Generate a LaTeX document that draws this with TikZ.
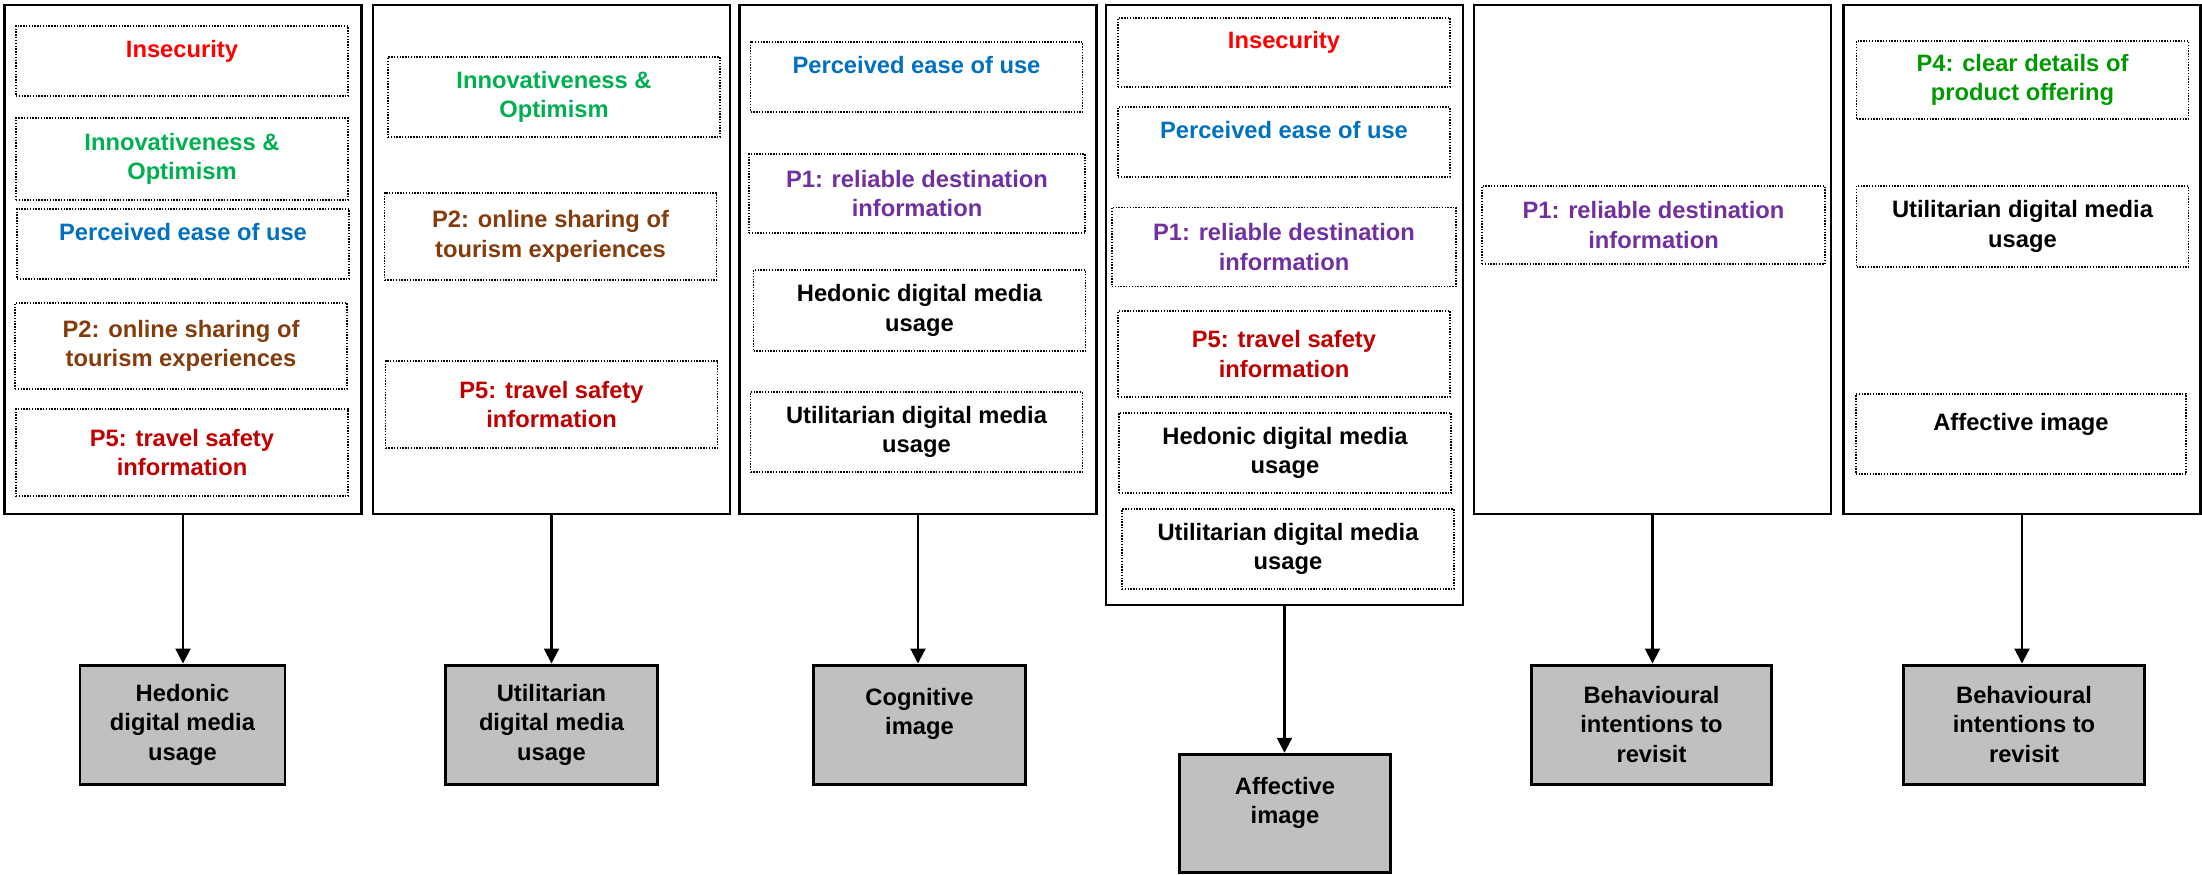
\documentclass[tikz,border=0pt]{standalone}
\usepackage{fontspec}
\setmainfont{Liberation Sans}
\usepackage{tikz}
\usetikzlibrary{arrows.meta}
\usetikzlibrary{positioning}

\definecolor{insec}{HTML}{FF0000}
\definecolor{innov}{HTML}{00B050}
\definecolor{ease}{HTML}{0070C0}
\definecolor{share}{HTML}{843C0C}
\definecolor{safety}{HTML}{C00000}
\definecolor{reliab}{HTML}{7030A0}
\definecolor{offer}{HTML}{009A00}
\definecolor{outfill}{HTML}{C0C0C0}

\tikzset{
  txt/.style={font=\bfseries\fontsize{13.5}{16.8}\selectfont, align=center},
  panel/.style={draw, line width=1.4pt, minimum width=7.14cm, minimum height=10.18cm},
  inbox/.style={txt, draw, line width=0.9pt, dash pattern=on 0.8pt off 0.8pt,
    minimum width=6.64cm, inner sep=0pt},
  one/.style={text height=0.35cm, text depth=0.5cm},
  two/.style={text depth=0.52cm},
  outbox/.style={txt, draw, fill=outfill, line width=1.7pt, minimum height=2.38cm, inner sep=0pt},
  arr/.style={line width=1.2pt, -{Triangle[length=3mm,width=3mm]}}
}

\begin{document}
\begin{tikzpicture}
  \useasboundingbox (0,0) rectangle (44.04,-17.48);

  % panels
  \node[panel] (panel1) at (3.66,-5.19) {};
  \node[panel] (panel2) at (11.03,-5.19) {};
  \node[panel] (panel3) at (18.36,-5.19) {};
  \node[panel, minimum height=12.0cm] (panel4) at (25.69,-6.10) {};
  \node[panel] (panel5) at (33.05,-5.19) {};
  \node[panel] (panel6) at (40.44,-5.19) {};

  % panel 1
  \node[inbox, one, minimum height=1.40cm, text=insec] (p1insec) at (3.64,-1.22) {Insecurity};
  \node[inbox, minimum height=1.64cm, text=innov] (p1innov) at (3.64,-3.18) {Innovativeness \&\\Optimism};
  \node[inbox, one, minimum height=1.40cm, text=ease] (p1ease) at (3.66,-4.88) {Perceived ease of use};
  \node[inbox, minimum height=1.72cm, text=share] (p1share) at (3.62,-6.92) {P2: online sharing of\\tourism experiences};
  \node[inbox, minimum height=1.74cm, text=safety] (p1safe) at (3.64,-9.05) {P5: travel safety\\information};

  % panel 2
  \node[inbox, minimum height=1.60cm, text=innov] (p2innov) at (11.08,-1.94) {Innovativeness \&\\Optimism};
  \node[inbox, minimum height=1.74cm, text=share] (p2share) at (11.01,-4.73) {P2: online sharing of\\tourism experiences};
  \node[inbox, minimum height=1.74cm, text=safety] (p2safe) at (11.03,-8.09) {P5: travel safety\\information};

  % panel 3
  \node[inbox, one, minimum height=1.40cm, text=ease] (p3ease) at (18.33,-1.54) {Perceived ease of use};
  \node[inbox, minimum height=1.58cm, minimum width=6.72cm, text=reliab] (p3rel) at (18.34,-3.87) {P1: reliable destination\\information};
  \node[inbox, minimum height=1.62cm] (p3hed) at (18.39,-6.21) {Hedonic digital media\\usage};
  \node[inbox, minimum height=1.60cm] (p3util) at (18.33,-8.64) {Utilitarian digital media\\usage};

  % panel 4
  \node[inbox, one, minimum height=1.38cm, text=insec] (p4insec) at (25.68,-1.05) {Insecurity};
  \node[inbox, one, minimum height=1.39cm, text=ease] (p4ease) at (25.68,-2.84) {Perceived ease of use};
  \node[inbox, minimum height=1.58cm, minimum width=6.88cm, text=reliab] (p4rel) at (25.68,-4.94) {P1: reliable destination\\information};
  \node[inbox, minimum height=1.72cm, text=safety] (p4safe) at (25.68,-7.08) {P5: travel safety\\information};
  \node[inbox, minimum height=1.61cm] (p4hed) at (25.70,-9.06) {Hedonic digital media\\usage};
  \node[inbox, minimum height=1.60cm] (p4util) at (25.76,-10.98) {Utilitarian digital media\\usage};

  % panel 5
  \node[inbox, minimum height=1.56cm, minimum width=6.86cm, text=reliab] (p5rel) at (33.07,-4.50) {P1: reliable destination\\information};

  % panel 6
  \node[inbox, minimum height=1.56cm, text=offer] (p6offer) at (40.45,-1.60) {P4: clear details of\\product offering};
  \node[inbox, minimum height=1.62cm] (p6util) at (40.45,-4.53) {Utilitarian digital media\\usage};
  \node[inbox, one, minimum height=1.60cm, minimum width=6.61cm] (p6aff) at (40.42,-8.68) {Affective image};

  % outcomes
  \node[outbox, minimum width=4.10cm] (out1) at (3.65,-14.49) {Hedonic\\digital media\\usage};
  \node[outbox, minimum width=4.24cm] (out2) at (11.03,-14.49) {Utilitarian\\digital media\\usage};
  \node[outbox, two, minimum width=4.24cm] (out3) at (18.39,-14.49) {Cognitive\\image};
  \node[outbox, two, minimum width=4.22cm, minimum height=2.37cm] (out4) at (25.70,-16.27) {Affective\\image};
  \node[outbox, minimum width=4.80cm] (out5) at (33.03,-14.49) {Behavioural\\intentions to\\revisit};
  \node[outbox, minimum width=4.82cm] (out6) at (40.48,-14.49) {Behavioural\\intentions to\\revisit};

  % arrows
  \foreach \i in {1,...,6}
    \draw[arr] (panel\i.south) -- (panel\i.south |- out\i.north);
\end{tikzpicture}
\end{document}
